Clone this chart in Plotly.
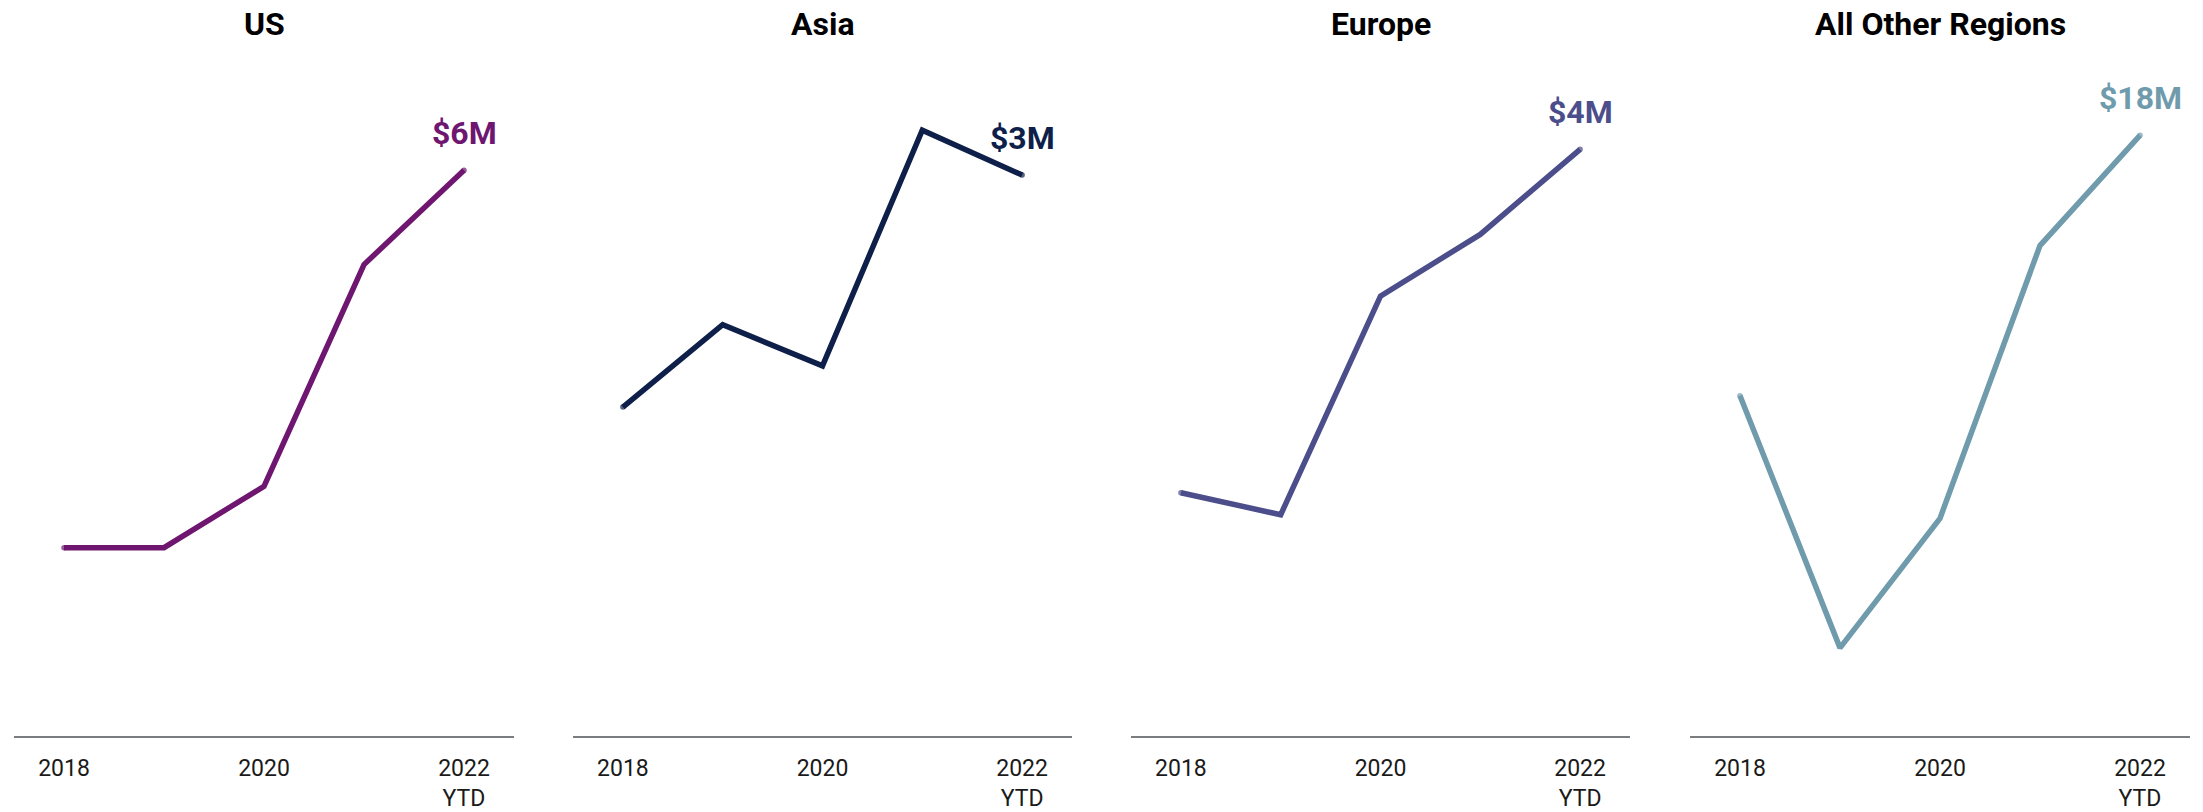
import plotly.graph_objects as go

# Annual values per region, $M
years = [2018, 2019, 2020, 2021, 2022]
tick_vals = [2018, 2020, 2022]
tick_text = ["2018", "2020", "2022<br>YTD"]

regions = ["US", "Asia", "Europe", "All Other Regions"]
us_vals = [2.0, 2.0, 2.65, 5.0, 6.0]
asia_vals = [1.76, 2.20, 1.98, 3.24, 3.0]
europe_vals = [1.66, 1.51, 3.00, 3.42, 4.0]
other_vals = [10.2, 2.65, 6.53, 14.7, 18.0]
series = [us_vals, asia_vals, europe_vals, other_vals]
end_labels = ["$6M", "$3M", "$4M", "$18M"]
y_tops = [6.96, 3.51, 4.475, 19.67]

colors = ["#6e1670", "#0e1f4a", "#4b4e8a", "#6f9bac"]

W, H = 2203, 812
# horizontal extent of each panel, in pixels
panel_px = [(14, 514), (573, 1072), (1131, 1630), (1690, 2190)]
y_bottom_px, y_top_px = 740, 80
LW = 5.5

fig = go.Figure()
for i, (name, vals, color, lab, ytop) in enumerate(
        zip(regions, series, colors, end_labels, y_tops)):
    n = i + 1
    xa = "x" if n == 1 else f"x{n}"
    ya = "y" if n == 1 else f"y{n}"
    # round the two line ends with small dots of the line width
    cap_sizes = [LW] + [0] * (len(vals) - 2) + [LW]
    fig.add_trace(go.Scatter(
        x=years, y=vals, mode="lines+markers", xaxis=xa, yaxis=ya,
        line=dict(color=color, width=LW),
        marker=dict(color=color, size=cap_sizes, line=dict(width=0)),
        showlegend=False, hoverinfo="skip"))
    x0, x1 = panel_px[i]
    dom_x = [x0 / W, x1 / W]
    dom_y = [(H - y_bottom_px) / H, (H - y_top_px) / H]
    fig.update_layout({
        f"xaxis{'' if n == 1 else n}": dict(
            domain=dom_x, range=[2017.5, 2022.5], anchor=ya,
            showgrid=False, zeroline=False, showline=True,
            linecolor="#7a7d80", linewidth=2,
            tickvals=tick_vals, ticktext=tick_text, ticks="",
            ticklabelstandoff=10,
            tickfont=dict(family="Roboto", size=23, color="#1a1a1a"),
            fixedrange=True),
        f"yaxis{'' if n == 1 else n}": dict(
            domain=dom_y, range=[0, ytop], anchor=xa,
            visible=False, fixedrange=True),
    })
    # closing-value label above the last point
    fig.add_annotation(
        x=years[-1], y=vals[-1], xref=xa, yref=ya, text=f"<b>{lab}</b>",
        showarrow=False, xanchor="center", yanchor="bottom", yshift=16,
        font=dict(family="Roboto", size=32, color=color))
    # panel title
    fig.add_annotation(
        x=(x0 + x1) / 2 / W, y=1 - 24 / H, xref="paper", yref="paper",
        text=f"<b>{name}</b>", showarrow=False,
        xanchor="center", yanchor="middle",
        font=dict(family="Roboto", size=32, color="#000000"))

fig.update_layout(
    width=W, height=H,
    margin=dict(l=0, r=0, t=0, b=0),
    paper_bgcolor="white", plot_bgcolor="white",
)

fig.write_html("out.html", config={"displayModeBar": False})
